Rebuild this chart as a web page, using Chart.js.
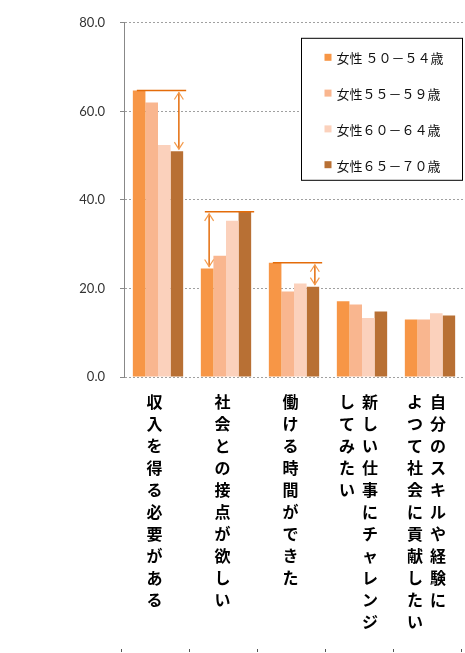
<!DOCTYPE html>
<html>
<head>
<meta charset="utf-8">
<script src="https://cdn.jsdelivr.net/npm/chart.js@4.4.1/dist/chart.umd.min.js"></script>
<style>
  html, body { margin: 0; padding: 0; background: #fff; }
  #wrap { width: 465px; height: 653px; position: relative; }
</style>
</head>
<body>
<div id="wrap"><canvas id="chart"></canvas></div>
<script>
// --- data ---
const categories = [
    '収入を得る必要がある',
    '社会との接点が欲しい',
    '働ける時間ができた',
    '新しい仕事にチャレンジ\nしてみたい',
    '自分のスキルや経験に\nよつて社会に貢献したい'
];
const seriesNames = ['女性 ５０－５４歳', '女性５５－５９歳', '女性６０－６４歳', '女性６５－７０歳'];
const age50_54 = [64.7, 24.5, 25.8, 17.1, 13.0];
const age55_59 = [62.0, 27.4, 19.3, 16.4, 13.0];
const age60_64 = [52.4, 35.3, 21.1, 13.3, 14.4];
const age65_70 = [51.0, 37.3, 20.4, 14.8, 13.9];
const yTicks = [0, 20, 40, 60, 80];

// which bar gives the top line and which bar gets the arrow
const gapMarks = [
    { cat: 0, lineSeries: 0, arrowSeries: 3 },
    { cat: 1, lineSeries: 3, arrowSeries: 0 },
    { cat: 2, lineSeries: 0, arrowSeries: 3 }
];

const colors = ['#F79646', '#F9B68F', '#FBD1BC', '#B87034'];

// --- custom drawing: vertical labels, legend box, gap arrows ---
const extrasPlugin = {
    id: 'extras',
    afterDatasetsDraw(chart) {
        const ctx = chart.ctx;
        const y = chart.scales.y;

        // gap lines + arrows
        ctx.save();
        gapMarks.forEach(g => {
            const metaA = chart.getDatasetMeta(g.arrowSeries).data[g.cat];
            const first = chart.getDatasetMeta(0).data[g.cat];
            const last = chart.getDatasetMeta(3).data[g.cat];
            const lineY = y.getPixelForValue(chart.data.datasets[g.lineSeries].data[g.cat]);
            const barY = y.getPixelForValue(chart.data.datasets[g.arrowSeries].data[g.cat]);
            const x0 = first.x - first.width / 2 + 4;
            const x1 = last.x + last.width / 2 + 3;
            ctx.strokeStyle = '#E46C0A';
            ctx.lineWidth = 1.5;
            ctx.beginPath();
            ctx.moveTo(x0, lineY);
            ctx.lineTo(x1, lineY);
            ctx.stroke();

            const ax = metaA.x + 2;
            const top = lineY + 2;
            const bot = barY - 2;
            ctx.beginPath();
            ctx.moveTo(ax, top);
            ctx.lineTo(ax, bot);
            ctx.stroke();
            ctx.strokeStyle = '#F39A4C';
            ctx.lineWidth = 1.2;
            ctx.beginPath();
            ctx.moveTo(ax - 4.5, top + 7);
            ctx.lineTo(ax, top);
            ctx.lineTo(ax + 4.5, top + 7);
            ctx.moveTo(ax - 4.5, bot - 7);
            ctx.lineTo(ax, bot);
            ctx.lineTo(ax + 4.5, bot - 7);
            ctx.stroke();
        });
        ctx.restore();
    },
    afterDraw(chart) {
        const ctx = chart.ctx;
        const area = chart.chartArea;
        const x = chart.scales.x;

        // vertical category labels (first column on the right)
        ctx.save();
        ctx.fillStyle = '#000';
        ctx.font = 'bold 16px "Noto Sans CJK JP"';
        ctx.textAlign = 'center';
        ctx.textBaseline = 'middle';
        categories.forEach((label, i) => {
            const cols = label.split('\n');
            const cx = x.getPixelForValue(i) - 3.5;
            cols.forEach((col, c) => {
                const colX = cx + ((cols.length - 1) / 2 - c) * 23;
                Array.from(col).forEach((ch, k) => {
                    ctx.fillText(ch, colX, area.bottom + 25 + k * 22);
                });
            });
        });

        // small ticks at the very bottom
        ctx.strokeStyle = '#555';
        ctx.lineWidth = 1;
        for (let i = 0; i <= categories.length; i++) {
            const px = Math.round(x.getPixelForValue(i - 0.5)) - 2.5;
            ctx.beginPath();
            ctx.moveTo(px, chart.height - 4);
            ctx.lineTo(px, chart.height - 1);
            ctx.stroke();
        }

        // legend box
        const bx = area.right - 162.5;
        const by = area.top + 15.5;
        ctx.fillStyle = '#fff';
        ctx.fillRect(bx, by, 161, 142);
        ctx.strokeStyle = '#000';
        ctx.lineWidth = 1;
        ctx.strokeRect(bx, by, 161, 142);
        ctx.font = '13px "Noto Sans CJK JP"';
        ctx.textAlign = 'left';
        chart.data.datasets.forEach((ds, i) => {
            const iy = by + 19 + i * 35.8;
            ctx.fillStyle = ds.backgroundColor;
            ctx.fillRect(bx + 23, iy - 3.5, 7, 7);
            ctx.fillStyle = '#111';
            ctx.fillText(ds.label, bx + 35, iy + 1);
        });
        ctx.restore();
    }
};

const ctx = document.getElementById('chart').getContext('2d');

const chart = new Chart(ctx, {
    type: 'bar',
    data: {
        labels: categories,
        datasets: [
            { label: seriesNames[0], data: age50_54, backgroundColor: colors[0] },
            { label: seriesNames[1], data: age55_59, backgroundColor: colors[1] },
            { label: seriesNames[2], data: age60_64, backgroundColor: colors[2] },
            { label: seriesNames[3], data: age65_70, backgroundColor: colors[3] }
        ]
    },
    options: {
        responsive: true,
        maintainAspectRatio: false,
        animation: false,
        layout: { padding: { top: 21, right: 1, left: 0, bottom: 0 } },
        datasets: {
            bar: { categoryPercentage: 0.74, barPercentage: 1.0, borderWidth: 0 }
        },
        plugins: {
            legend: { display: false },
            tooltip: { enabled: false }
        },
        scales: {
            x: {
                ticks: { display: false },
                grid: { display: false },
                border: { display: false },
                afterFit: (s) => { s.height = 276; }
            },
            y: {
                min: 0,
                max: 80,
                afterFit: (s) => { s.width = 124; },
                afterBuildTicks: (s) => { s.ticks = yTicks.map(v => ({ value: v })); },
                ticks: {
                    padding: 15,
                    color: '#333',
                    font: { family: 'Lato', size: 13 },
                    callback: (v) => v.toFixed(1)
                },
                grid: {
                    color: '#A0A0A0',
                    tickColor: '#888',
                    tickLength: 4,
                    drawTicks: true
                },
                border: { display: true, color: '#888', width: 1, dash: [2, 2] }
            }
        }
    },
    plugins: [extrasPlugin]
});
</script>
</body>
</html>
